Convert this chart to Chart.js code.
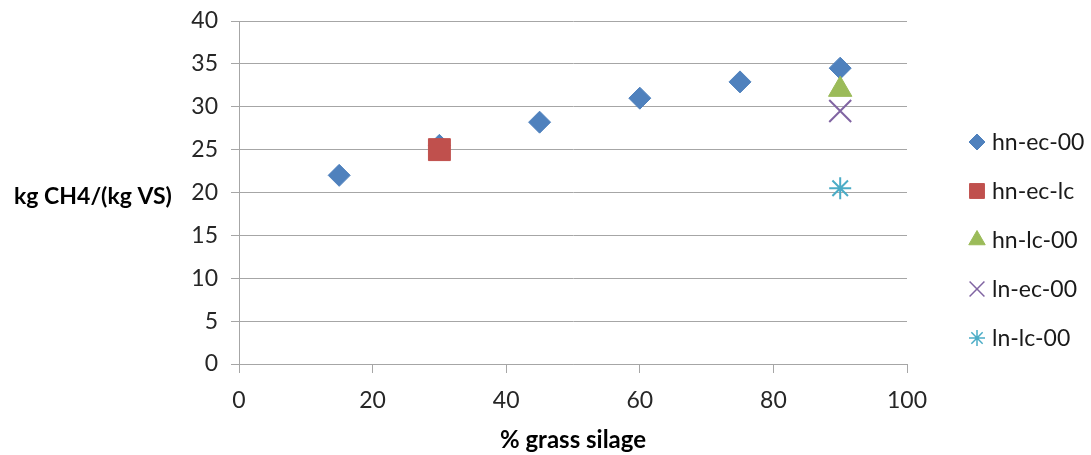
<!DOCTYPE html>
<html>
<head>
<meta charset="utf-8">
<script src="https://cdn.jsdelivr.net/npm/chart.js@4"></script>
<style>
  html, body { margin: 0; padding: 0; background: #fff; }
  #wrap { width: 1091px; height: 455px; position: relative; }
</style>
</head>
<body>
<div id="wrap"><canvas id="chart"></canvas></div>
<script>
// data
const seriesNames = ['hn-ec-00', 'hn-ec-lc', 'hn-lc-00', 'ln-ec-00', 'ln-lc-00'];
const hnEc00X = [15, 30, 45, 60, 75, 90];
const hnEc00Y = [22, 25.5, 28.2, 31, 32.9, 34.5];
const hnEcLcX = [30];
const hnEcLcY = [25];
const hnLc00X = [90];
const hnLc00Y = [32];
const lnEc00X = [90];
const lnEc00Y = [29.5];
const lnLc00X = [90];
const lnLc00Y = [20.5];
const yTicks = [0, 5, 10, 15, 20, 25, 30, 35, 40];
const xTicks = [0, 20, 40, 60, 80, 100];

const FONT = 'Lato, "Open Sans", sans-serif';
const GRID = '#a6a6a6';

const styles = [
    { color: '#4f81bd', pointStyle: 'rectRot', radius: 11, legendRadius: 8, fill: true },
    { color: '#c0504d', pointStyle: 'rect', radius: 15.5, legendRadius: 10.5, fill: true },
    { color: '#9bbb59', pointStyle: 'triangle', radius: 13.5, legendRadius: 9.5, fill: true },
    { color: '#8064a2', pointStyle: 'crossRot', radius: 15.5, legendRadius: 10.5, fill: false },
    { color: '#4bacc6', pointStyle: 'star', radius: 11, legendRadius: 8, fill: false }
];

function toPoints(xs, ys) {
    return xs.map((x, i) => ({ x: x, y: ys[i] }));
}

const seriesData = [
    toPoints(hnEc00X, hnEc00Y),
    toPoints(hnEcLcX, hnEcLcY),
    toPoints(hnLc00X, hnLc00Y),
    toPoints(lnEc00X, lnEc00Y),
    toPoints(lnLc00X, lnLc00Y)
];

const datasets = seriesNames.map((name, i) => ({
    label: name,
    data: seriesData[i],
    pointStyle: styles[i].pointStyle,
    pointRadius: styles[i].radius,
    pointHoverRadius: styles[i].radius,
    backgroundColor: styles[i].fill ? styles[i].color : 'rgba(0,0,0,0)',
    borderColor: styles[i].color,
    pointBorderWidth: styles[i].fill ? 1 : 2,
    showLine: false,
    // later series drawn on top, like the original
    order: seriesNames.length - i
}));

// axis titles and legend drawn by hand so they sit where the original has them
const decorPlugin = {
    id: 'decor',
    afterDraw(chart) {
        const ctx = chart.ctx;
        const area = chart.chartArea;
        ctx.save();
        ctx.fillStyle = '#000';
        ctx.font = 'bold 23px ' + FONT;
        ctx.textBaseline = 'middle';
        ctx.textAlign = 'center';
        ctx.fillText('kg CH4/(kg VS)', 93, 197);
        ctx.font = 'bold 24px ' + FONT;
        ctx.fillText('% grass silage', (area.left + area.right) / 2, 440);

        // legend
        ctx.font = '23px ' + FONT;
        ctx.textAlign = 'left';
        const rowY = [142, 191, 240, 289, 338];
        seriesNames.forEach((name, i) => {
            const st = styles[i];
            ctx.fillStyle = st.color;
            ctx.strokeStyle = st.color;
            ctx.lineWidth = st.fill ? 1 : 1.5;
            Chart.helpers.drawPoint(ctx, {
                pointStyle: st.pointStyle,
                radius: st.legendRadius,
                rotation: 0,
                borderWidth: ctx.lineWidth
            }, 977, rowY[i]);
            ctx.fillStyle = '#1a1a1a';
            ctx.fillText(name, 992, rowY[i] + 1);
        });
        ctx.restore();
    }
};

new Chart(document.getElementById('chart'), {
    type: 'scatter',
    data: { datasets: datasets },
    options: {
        responsive: true,
        maintainAspectRatio: false,
        animation: false,
        layout: { padding: { top: 21, right: 184, bottom: 0, left: 0 } },
        plugins: {
            legend: { display: false },
            tooltip: { enabled: false }
        },
        scales: {
            x: {
                type: 'linear',
                min: 0,
                max: 100,
                afterBuildTicks(scale) {
                    scale.ticks = xTicks.map(v => ({ value: v }));
                },
                afterFit(scale) {
                    scale.height = 91;
                    scale.paddingLeft = 0;
                    scale.paddingRight = 0;
                },
                grid: {
                    drawOnChartArea: false,
                    drawTicks: true,
                    tickLength: 9,
                    color: GRID
                },
                border: { color: GRID, width: 1 },
                ticks: {
                    padding: 14,
                    color: '#262626',
                    font: { family: FONT, size: 23 }
                }
            },
            y: {
                type: 'linear',
                min: 0,
                max: 40,
                afterBuildTicks(scale) {
                    scale.ticks = yTicks.map(v => ({ value: v }));
                },
                afterFit(scale) {
                    scale.width = 239;
                    scale.paddingTop = 0;
                    scale.paddingBottom = 0;
                },
                grid: {
                    color: GRID,
                    tickLength: 8,
                    drawTicks: true
                },
                border: { color: GRID, width: 1 },
                ticks: {
                    padding: 13,
                    color: '#262626',
                    font: { family: FONT, size: 23 }
                }
            }
        }
    },
    plugins: [decorPlugin]
});
</script>
</body>
</html>
